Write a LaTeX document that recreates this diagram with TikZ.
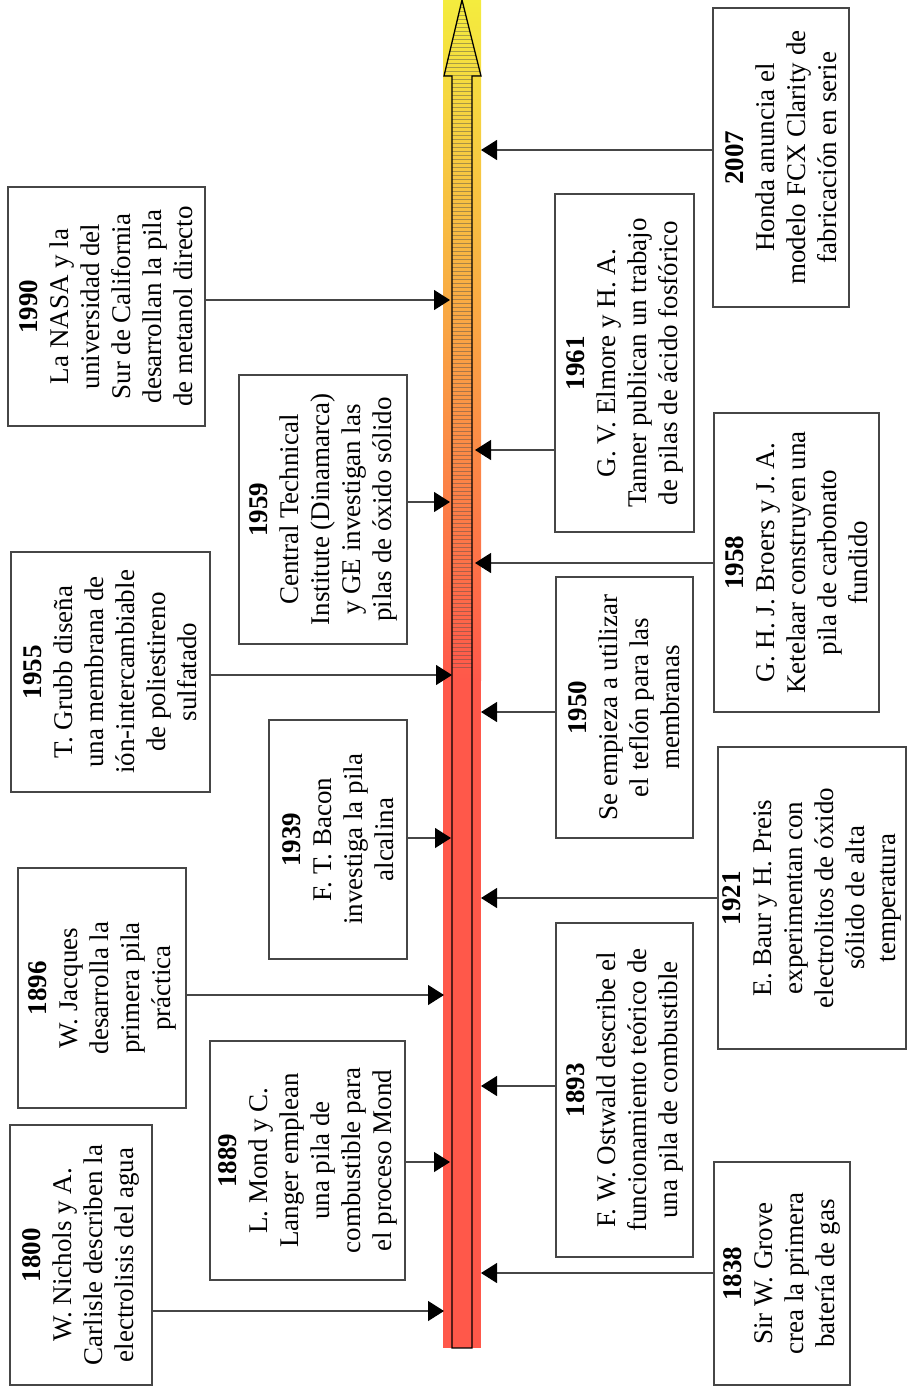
\documentclass[tikz,border=0pt]{standalone}
\usepackage{fontspec}
\setmainfont{Liberation Serif}
\usepackage{tikz}
\usetikzlibrary{arrows.meta}
\definecolor{fuelRed}{RGB}{255,88,74}
\definecolor{fuelOrange}{RGB}{250,160,52}
\definecolor{fuelYellow}{RGB}{244,236,62}
\definecolor{fuelFrame}{RGB}{70,70,70}
\tikzset{
  fuelBox/.style={draw=fuelFrame, line width=1.2pt, fill=white, rotate=90, align=center, inner sep=4pt, font=\fontsize{27}{31}\selectfont},
  fuelArrow/.style={->, draw=fuelFrame, line width=1.2pt},
  fuelHatch/.style={black!70, opacity=.45, line width=.6pt},
  fuelShaft/.style={draw=black, line width=1.3pt, line join=miter}
}

\begin{document}
\begin{tikzpicture}[x=1pt, y=-1pt, >={Triangle[length=16pt,width=20pt,black]}]
  \useasboundingbox (0,0) rectangle (907,1393);
  \shade[top color=fuelYellow, middle color=fuelOrange, bottom color=fuelRed] (443,0) rectangle (481,680);
  \fill[fuelRed] (443,679) rectangle (481,1348);
  \begin{scope}
    \clip (452,1348) -- (452,76) -- (444,76) -- (462,0) -- (481,76) -- (472,76) -- (472,1348) -- cycle;
    \foreach \y in {3,7,...,670}
      \draw[fuelHatch] (444,\y) -- (481,\y);
  \end{scope}
  \draw[fuelShaft] (452,1348) -- (452,76) -- (444,76) -- (462,0) -- (481,76) -- (472,76) -- (472,1348) -- cycle;
  \node[fuelBox, minimum width=260, minimum height=142] (b1800) at (81,1255) {\textbf{1800}\\W. Nichols y A.\\Carlisle describen la\\electrolisis del agua};
  \node[fuelBox, minimum width=239, minimum height=195] (b1889) at (307.5,1160.5) {\textbf{1889}\\L. Mond y C.\\Langer emplean\\una pila de\\combustible para\\el proceso Mond};
  \node[fuelBox, minimum width=240, minimum height=168] (b1896) at (102,988) {\textbf{1896}\\W. Jacques\\desarrolla la\\primera pila\\práctica};
  \node[fuelBox, minimum width=239, minimum height=138] (b1939) at (338,839.5) {\textbf{1939}\\F. T. Bacon\\investiga la pila\\alcalina};
  \node[fuelBox, minimum width=240, minimum height=199] (b1955) at (110.5,672) {\textbf{1955}\\T. Grubb diseña\\una membrana de\\ión-intercambiable\\de poliestireno\\sulfatado};
  \node[fuelBox, minimum width=269, minimum height=168] (b1959) at (323,509.5) {\textbf{1959}\\Central Technical\\Institute (Dinamarca)\\y GE investigan las\\pilas de óxido sólido};
  \node[fuelBox, minimum width=239, minimum height=197] (b1990) at (106.5,306.5) {\textbf{1990}\\La NASA y la\\universidad del\\Sur de California\\desarrollan la pila\\de metanol directo};
  \node[fuelBox, minimum width=223, minimum height=136] (b1838) at (782,1273.5) {\textbf{1838}\\Sir W. Grove\\crea la primera\\batería de gas};
  \node[fuelBox, minimum width=334, minimum height=137] (b1893) at (624.5,1090) {\textbf{1893}\\F. W. Ostwald describe el\\funcionamiento teórico de\\una pila de combustible};
  \node[fuelBox, minimum width=302, minimum height=188] (b1921) at (812,898) {\textbf{1921}\\E. Baur y H. Preis\\experimentan con\\electrolitos de óxido\\sólido de alta\\temperatura};
  \node[fuelBox, minimum width=261, minimum height=137] (b1950) at (624.5,707.5) {\textbf{1950}\\Se empieza a utilizar\\el teflón para las\\membranas};
  \node[fuelBox, minimum width=299, minimum height=165] (b1958) at (796.5,562.5) {\textbf{1958}\\G. H. J. Broers y J. A.\\Ketelaar construyen una\\pila de carbonato\\fundido};
  \node[fuelBox, minimum width=338, minimum height=139] (b1961) at (624.5,363) {\textbf{1961}\\G. V. Elmore y H. A.\\Tanner publican un trabajo\\de pilas de ácido fosfórico};
  \node[fuelBox, minimum width=299, minimum height=136] (b2007) at (781,157.5) {\textbf{2007}\\Honda anuncia el\\modelo FCX Clarity de\\fabricación en serie};
  \coordinate (p1800) at (444,1311);
  \coordinate (p1889) at (450,1162);
  \coordinate (p1896) at (444,995);
  \coordinate (p1939) at (451,838);
  \coordinate (p1955) at (452,675);
  \coordinate (p1959) at (450,502);
  \coordinate (p1990) at (450,300);
  \coordinate (p1838) at (481,1273);
  \coordinate (p1893) at (481,1086);
  \coordinate (p1921) at (481,898);
  \coordinate (p1950) at (481,712);
  \coordinate (p1958) at (475,563);
  \coordinate (p1961) at (475,450);
  \coordinate (p2007) at (481,150);
  \foreach \yr in {1800,1889,1896,1939,1955,1959,1990}
    \draw[fuelArrow] (b\yr.south |- p\yr) -- (p\yr);
  \foreach \yr in {1838,1893,1921,1950,1958,1961,2007}
    \draw[fuelArrow] (b\yr.north |- p\yr) -- (p\yr);
\end{tikzpicture}
\end{document}
